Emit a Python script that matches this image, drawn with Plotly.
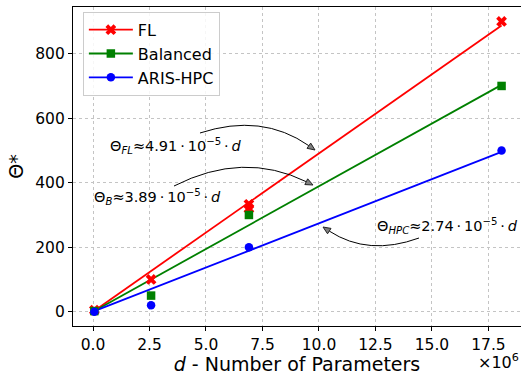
import plotly.graph_objects as go

# ---- data ----
fl_x = [0.06e6, 2.57e6, 6.9e6, 6.9e6, 18.08e6]
fl_y = [5, 100, 333, 320, 900]
bal_x = [0.06e6, 2.57e6, 6.9e6, 18.08e6]
bal_y = [2, 50, 300, 700]
hpc_x = [0.06e6, 2.57e6, 6.9e6, 18.08e6]
hpc_y = [0, 20, 200, 500]

fl_slope = 4.91e-5
bal_slope = 3.89e-5
hpc_slope = 2.74e-5

fit_x = [0.0, 18.08e6]

x_tick_vals = [0, 2.5e6, 5.0e6, 7.5e6, 10.0e6, 12.5e6, 15.0e6, 17.5e6]
x_tick_text = ["0.0", "2.5", "5.0", "7.5", "10.0", "12.5", "15.0", "17.5"]
y_tick_vals = [0, 200, 400, 600, 800]

names = ["FL", "Balanced", "ARIS-HPC"]
colors = ["#ff0000", "#008000", "#0000ff"]
symbols = ["x", "square", "circle"]
msizes = [9.5, 8.5, 8.5]

FONT = "DejaVu Sans"
W, H = 521, 375
ML, MR, MT, MB = 73, 0, 7, 49
PW, PH = W - ML - MR, H - MT - MB

fig = go.Figure()

series = [(fl_x, fl_y, fl_slope), (bal_x, bal_y, bal_slope), (hpc_x, hpc_y, hpc_slope)]
for (xs, ys, k), name, c, s, ms in zip(series, names, colors, symbols, msizes):
    fig.add_trace(go.Scatter(x=fit_x, y=[k * v for v in fit_x], mode="lines",
                             line=dict(color=c, width=1.8), showlegend=False, hoverinfo="skip"))
for (xs, ys, k), name, c, s, ms in zip(series, names, colors, symbols, msizes):
    fig.add_trace(go.Scatter(x=xs, y=ys, mode="markers",
                             marker=dict(color=c, symbol=s, size=ms, line=dict(width=0)),
                             showlegend=False))
# legend entries (line + marker)
for name, c, s, ms in zip(names, colors, symbols, msizes):
    fig.add_trace(go.Scatter(x=[None], y=[None], mode="lines+markers", name=name,
                             line=dict(color=c, width=1.8),
                             marker=dict(color=c, symbol=s, size=ms, line=dict(width=0))))


def px2paper(px, py):
    return (px - ML) / PW, (H - MB - py) / PH


def curved_arrow(p0, c, p2, head_len=7.5, head_w=3.2):
    ux, uy = p2[0] - c[0], p2[1] - c[1]
    n = (ux ** 2 + uy ** 2) ** 0.5
    ux, uy = ux / n, uy / n
    bx, by = p2[0] - head_len * ux, p2[1] - head_len * uy
    nx, ny = -uy, ux
    pts = [px2paper(*p0), px2paper(*c), px2paper(bx, by)]
    path = "M {0[0]:.5f},{0[1]:.5f} Q {1[0]:.5f},{1[1]:.5f} {2[0]:.5f},{2[1]:.5f}".format(*pts)
    fig.add_shape(type="path", path=path, xref="paper", yref="paper",
                  line=dict(color="black", width=1))
    t = [px2paper(*p2), px2paper(bx + head_w * nx, by + head_w * ny),
         px2paper(bx - head_w * nx, by - head_w * ny)]
    tri = "M {0[0]:.5f},{0[1]:.5f} L {1[0]:.5f},{1[1]:.5f} L {2[0]:.5f},{2[1]:.5f} Z".format(*t)
    fig.add_shape(type="path", path=tri, xref="paper", yref="paper",
                  line=dict(color="#222222", width=1), fillcolor="#808080")


curved_arrow((200, 133), (261.75, 112.75), (315, 150))
curved_arrow((174, 186), (243.25, 150.75), (313, 185))
curved_arrow((419, 238), (368.25, 256.5), (323, 227))

DOT = "\u2009\u00b7\u2009"
labels = [
    ("\u0398<sub><i>FL</i></sub>\u2248" + f"{fl_slope * 1e5:.2f}" + DOT + "10<sup>\u22125</sup>" + DOT + "<i>d</i>", 108, 145.5),
    ("\u0398<sub><i>B</i></sub>\u2248" + f"{bal_slope * 1e5:.2f}" + DOT + "10<sup>\u22125</sup>" + DOT + "<i>d</i>", 92, 197),
    ("\u0398<sub><i>HPC</i></sub>\u2248" + f"{hpc_slope * 1e5:.2f}" + DOT + "10<sup>\u22125</sup>" + DOT + "<i>d</i>", 375, 225.5),
]
for txt, px, py in labels:
    x, y = px2paper(px, py)
    fig.add_annotation(text=txt, x=x, y=y, xref="paper", yref="paper", xanchor="left",
                       yanchor="middle", showarrow=False, font=dict(family=FONT, size=14.5, color="black"))

fig.add_annotation(text="\u00d710<sup>6</sup>", x=1.0, y=px2paper(0, 361)[1], xref="paper", yref="paper",
                   xanchor="right", yanchor="middle", showarrow=False,
                   font=dict(family=FONT, size=16, color="black"))

axis_common = dict(showline=True, linecolor="black", linewidth=1.2, ticks="outside", ticklen=4,
                   tickwidth=1, tickcolor="black", showgrid=True, gridcolor="#c4c4c4", griddash="dot",
                   gridwidth=1, zeroline=False, tickfont=dict(family=FONT, size=15.5, color="black"))

fig.update_xaxes(range=[-0.885e6, 18.94e6], tickvals=x_tick_vals, ticktext=x_tick_text, mirror=True,
                 title=dict(text="<i>d</i> - Number of Parameters", font=dict(family=FONT, size=19, color="black"),
                            standoff=5), **axis_common)
fig.update_yaxes(range=[-44.3, 944.8], tickvals=y_tick_vals,
                 title=dict(text="\u0398*", font=dict(family=FONT, size=19, color="black"), standoff=6),
                 **axis_common)

fig.update_layout(width=W, height=H, margin=dict(l=ML, r=MR, t=MT, b=MB, autoexpand=False),
                  plot_bgcolor="white", paper_bgcolor="white",
                  font=dict(family=FONT, color="black"),
                  legend=dict(x=0.022, y=0.985, xanchor="left", yanchor="top", itemwidth=44,
                              bgcolor="rgba(255,255,255,0.85)", bordercolor="#cccccc", borderwidth=1,
                              font=dict(family=FONT, size=16, color="black"), tracegroupgap=0))

fig.write_html("out.html", config={"displayModeBar": False},
               post_script="document.body.style.margin='0';document.body.style.padding='0';")
